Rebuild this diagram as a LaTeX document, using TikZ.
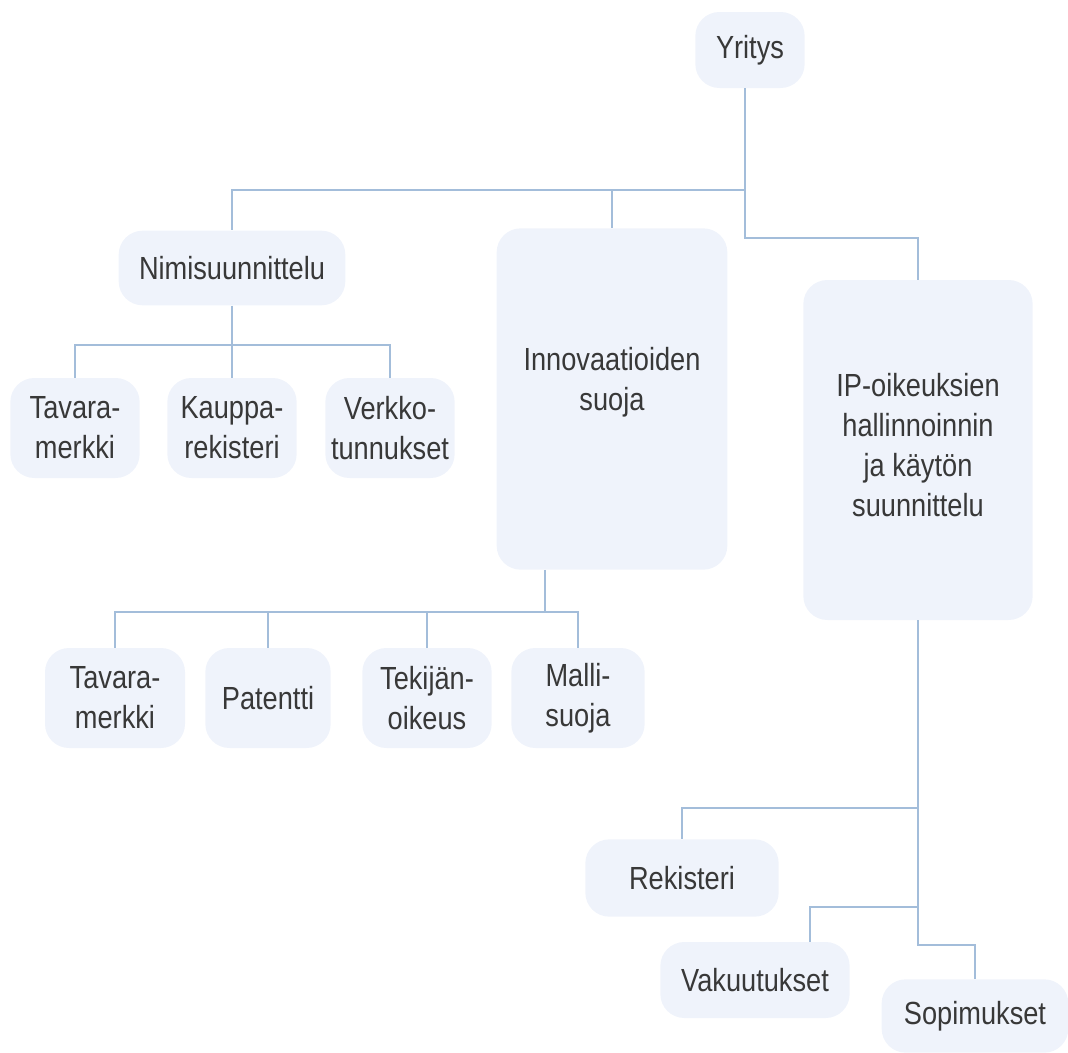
\documentclass[tikz,border=0pt]{standalone}
\usepackage{fontspec}
\setmainfont{Liberation Sans}[FakeStretch=0.85]
\usetikzlibrary{calc}
\definecolor{boxfill}{HTML}{EFF3FB}
\definecolor{linkcol}{HTML}{A3BDDA}
\tikzset{
  box/.style={fill=boxfill, rounded corners=18pt, align=center, inner sep=0pt,
    text=black!78, font=\fontsize{24}{30}\selectfont},
  link/.style={draw=linkcol, line width=1.5pt},
}

\begin{document}
\begin{tikzpicture}[x=0.75pt, y=-0.75pt]
    \useasboundingbox (0,0) rectangle (1068,1053);
    % top level
    \node[box, minimum width=82pt, minimum height=57pt] (yritys) at (750,50) {Yritys};
    \node[box, minimum width=170pt, minimum height=56pt] (nimi) at (232,268) {Nimisuunnittelu};
    \node[box, minimum width=173pt, minimum height=256pt] (innov) at (612,399) {Innovaatioiden\\suoja\\\mbox{}};
    \node[box, minimum width=172pt, minimum height=255pt] (ip) at (918,450) {IP-oikeuksien\\hallinnoinnin\\ja käytön\\suunnittelu\\[-22pt]\mbox{}};
    % under Nimisuunnittelu
    \node[box, minimum width=97pt, minimum height=75pt] (tav) at (75,428) {Tavara-\\merkki};
    \node[box, minimum width=97pt, minimum height=75pt] (kau) at (232,428) {Kauppa-\\rekisteri};
    \node[box, minimum width=97pt, minimum height=75pt] (ver) at (390,428) {Verkko-\\tunnukset};
    % under Innovaatioiden suoja
    \node[box, minimum width=105pt, minimum height=75pt] (tavb) at (115,698) {Tavara-\\merkki};
    \node[box, minimum width=94pt, minimum height=75pt] (pat) at (268,698) {Patentti};
    \node[box, minimum width=97pt, minimum height=75pt] (tek) at (427,698) {Tekijän-\\oikeus};
    \node[box, minimum width=100pt, minimum height=75pt] (mal) at (578,698) {Malli-\\suoja};
    % under IP
    \node[box, minimum width=145pt, minimum height=58pt] (rek) at (682,878) {Rekisteri};
    \node[box, minimum width=142pt, minimum height=57pt] (vak) at (755,980) {Vakuutukset};
    \node[box, minimum width=140pt, minimum height=55pt] (sop) at (975,1016) {Sopimukset};

    \coordinate (hub) at (745,190);
    \coordinate (bend) at (745,238);
    \draw[link] (yritys.south -| hub) -- (bend) -| (ip.north);
    \draw[link] (hub) -| (nimi.north);
    \draw[link] (hub) -| (innov.north);

    \coordinate (nbar) at (232,345);
    \draw[link] (nimi.south) -- (nbar);
    \foreach \t in {tav,kau,ver}
      \draw[link] (nbar) -| (\t.north);

    \coordinate (ibar) at (545,612);
    \draw[link] (innov.south -| ibar) -- (ibar);
    \foreach \t in {tavb,pat,tek,mal}
      \draw[link] (ibar) -| (\t.north);

    \coordinate (r1) at (918,808);
    \coordinate (r2) at (918,907);
    \coordinate (r3) at (918,945);
    \draw[link] (ip.south) -- (r3) -| (sop.north);
    \draw[link] (r1) -| (rek.north);
    \draw[link] (r2) -| ($(vak.north)+(55,0)$);
\end{tikzpicture}
\end{document}
